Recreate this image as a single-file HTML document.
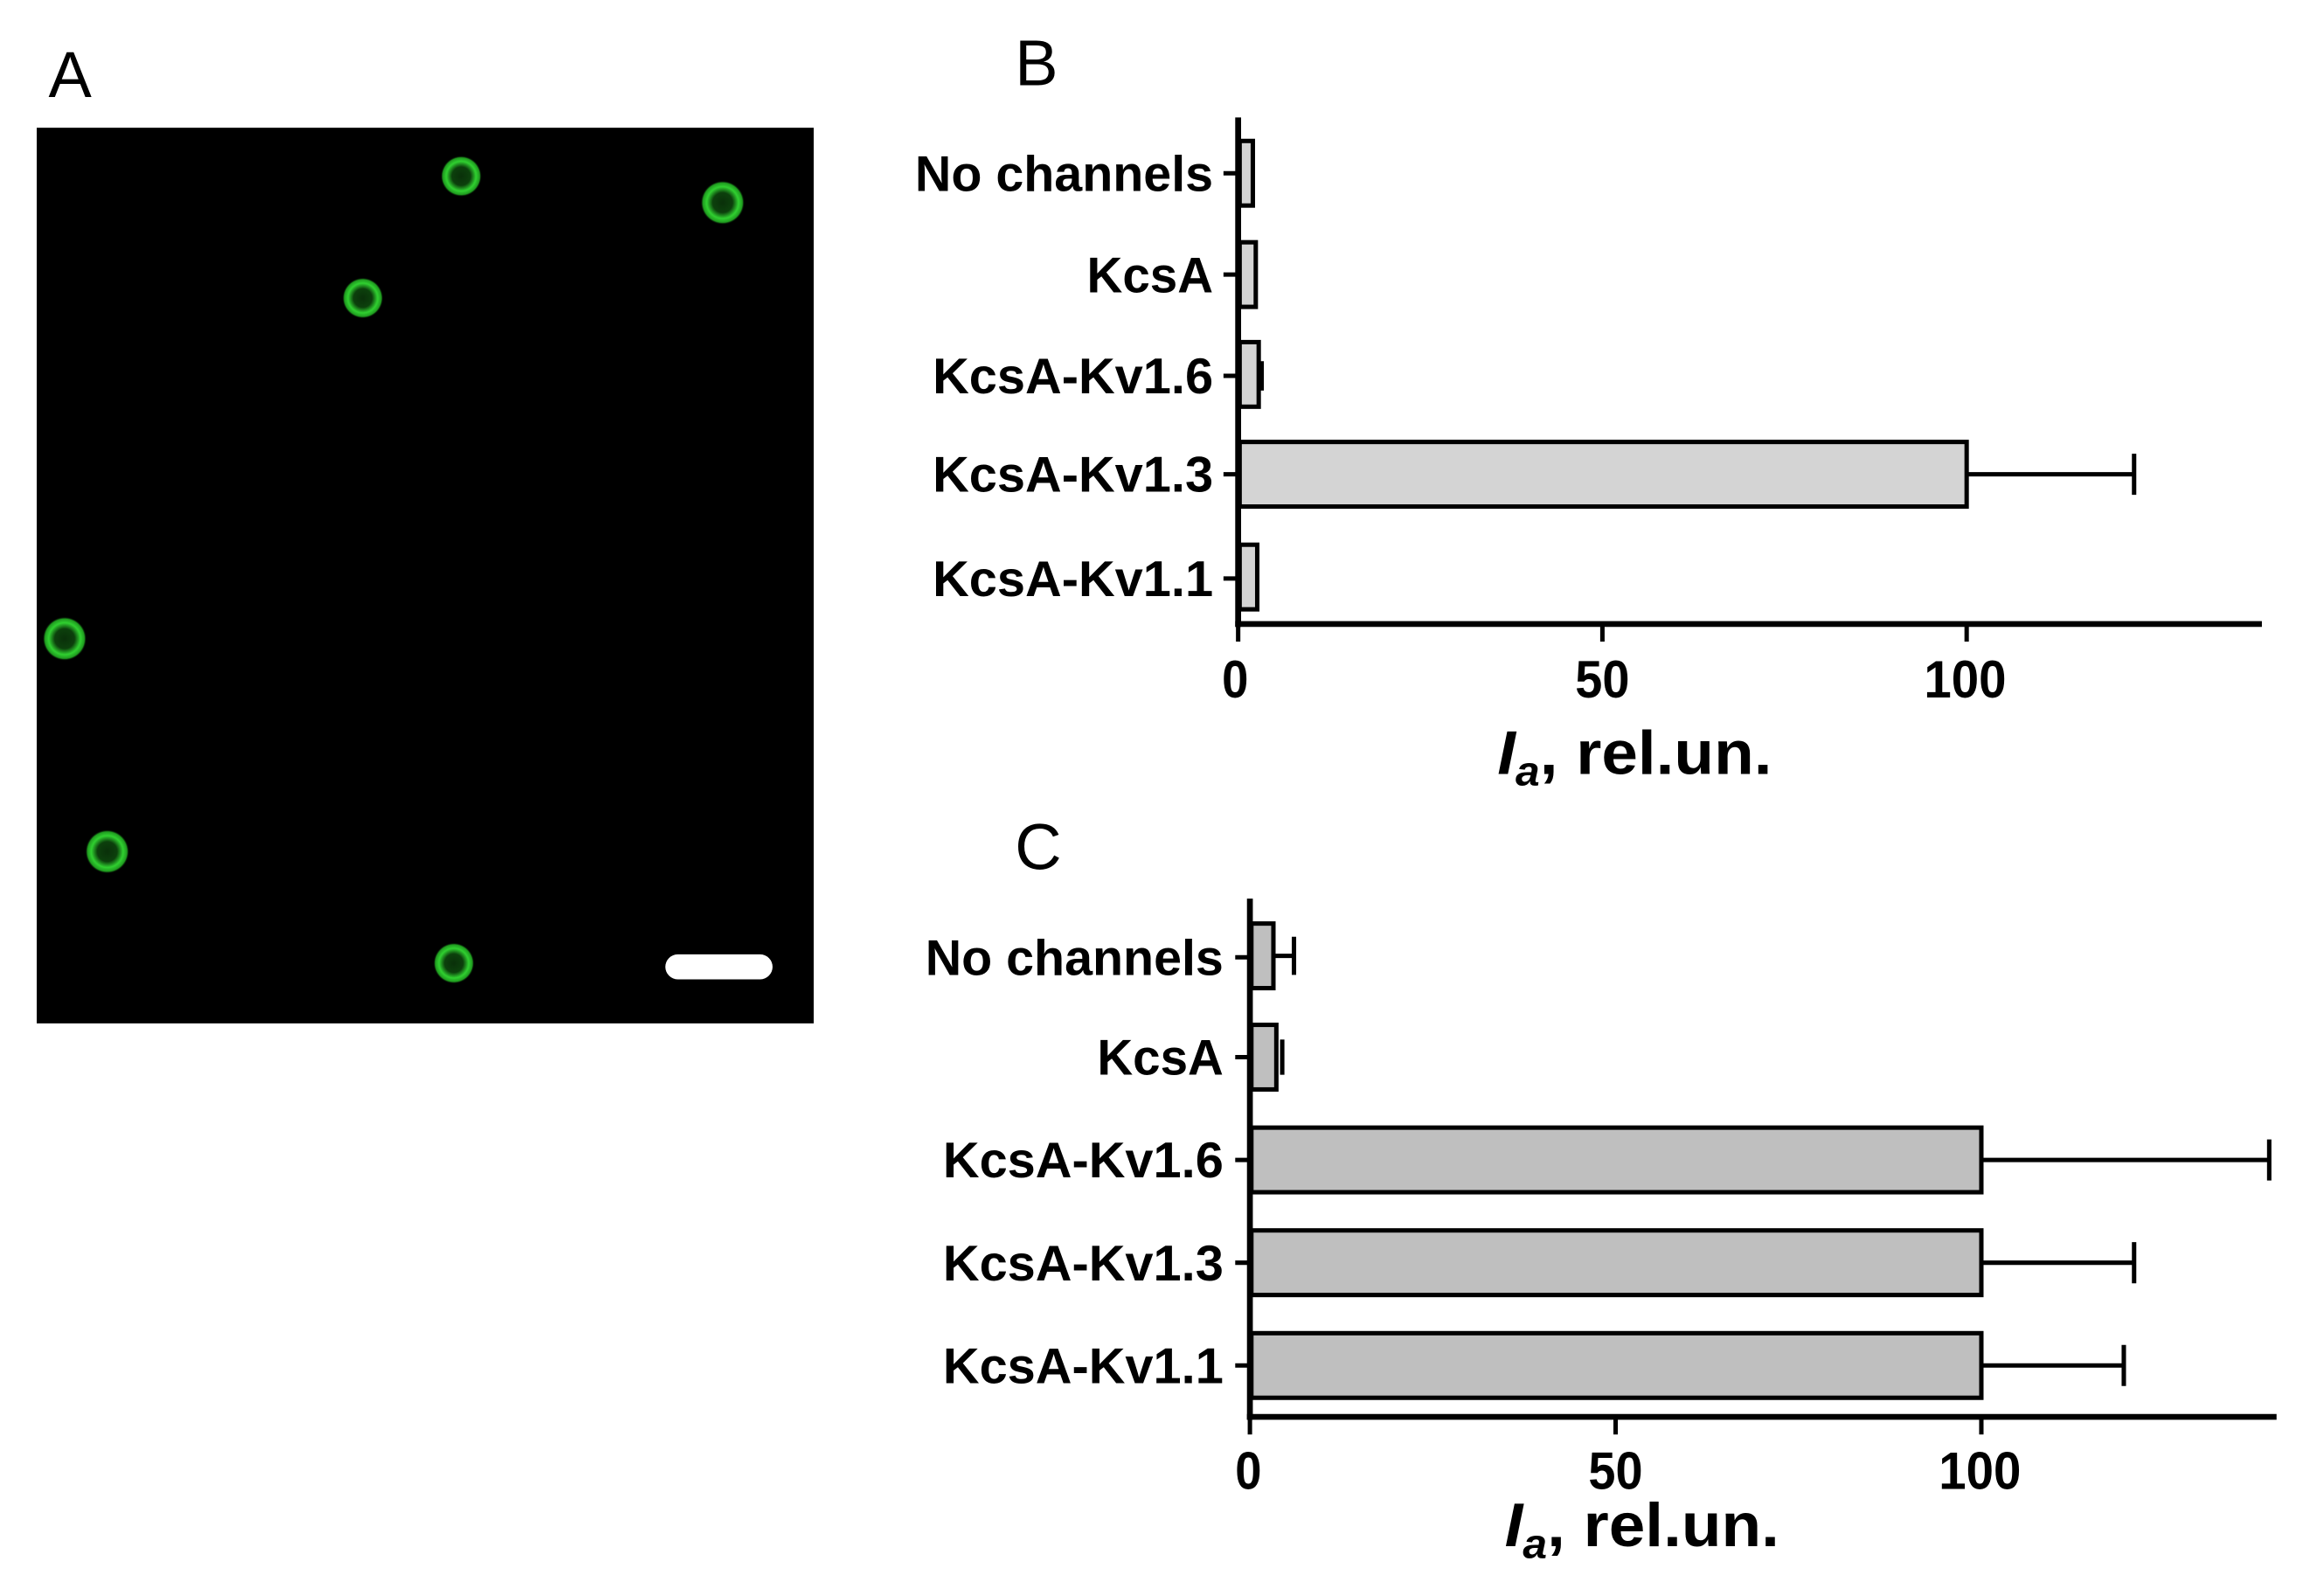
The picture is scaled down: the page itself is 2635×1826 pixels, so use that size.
<!DOCTYPE html>
<html><head><style>html,body{margin:0;padding:0;background:#fff}svg{display:block}</style></head><body>
<svg width="2635" height="1826" viewBox="0 0 1568 1087" preserveAspectRatio="none" xmlns="http://www.w3.org/2000/svg" font-family="Liberation Sans, Arial, sans-serif">
<defs>
<radialGradient id="cell"><stop offset="0" stop-color="#0a300a"/><stop offset="0.45" stop-color="#0c400c"/><stop offset="0.72" stop-color="#30d030"/><stop offset="0.9" stop-color="#1f9a1f"/><stop offset="1" stop-color="#000" stop-opacity="0"/></radialGradient>
</defs>
<!-- A -->
<text x="33" y="66" font-size="44" fill="#000">A</text>
<rect x="25" y="87" width="529" height="610" fill="#000"/>
<g fill="url(#cell)">
<circle cx="314" cy="120" r="14"/><circle cx="492" cy="138" r="15"/><circle cx="247" cy="203" r="14"/>
<circle cx="44" cy="435" r="15"/><circle cx="73" cy="580" r="15"/><circle cx="309" cy="656" r="14"/>
</g>
<rect x="453" y="650" width="73" height="17" rx="8.5" fill="#fff"/>

<!-- B -->
<text x="691" y="58" font-size="44" fill="#000">B</text>
<g stroke="#000" stroke-width="3" fill="#d4d4d4">
<rect x="844" y="96" width="9" height="44"/>
<rect x="844" y="165" width="11" height="44"/>
<rect x="844" y="233" width="13" height="44"/>
<rect x="844" y="301" width="495" height="44"/>
<rect x="844" y="371" width="12" height="44"/>
</g>
<g stroke="#000" stroke-width="4" fill="none">
<line x1="843" y1="80" x2="843" y2="427"/>
<line x1="841" y1="425" x2="1540" y2="425"/>
</g>
<g stroke="#000" stroke-width="3" fill="none">
<line x1="843" y1="425" x2="843" y2="437"/><line x1="1091" y1="425" x2="1091" y2="437"/><line x1="1339" y1="425" x2="1339" y2="437"/>
<line x1="833" y1="118" x2="843" y2="118"/><line x1="833" y1="187" x2="843" y2="187"/><line x1="833" y1="256" x2="843" y2="256"/><line x1="833" y1="323" x2="843" y2="323"/><line x1="833" y1="394" x2="843" y2="394"/>
<line x1="1339" y1="323" x2="1453" y2="323"/><line x1="1453" y1="309" x2="1453" y2="337"/>
<line x1="859" y1="246" x2="859" y2="266"/>
</g>
<g font-size="34" font-weight="bold" text-anchor="end" fill="#000">
<text x="826" y="130" textLength="203" lengthAdjust="spacingAndGlyphs">No channels</text>
<text x="826" y="199" textLength="86" lengthAdjust="spacingAndGlyphs">KcsA</text>
<text x="826" y="268" textLength="191" lengthAdjust="spacingAndGlyphs">KcsA-Kv1.6</text>
<text x="826" y="335" textLength="191" lengthAdjust="spacingAndGlyphs">KcsA-Kv1.3</text>
<text x="826" y="406" textLength="191" lengthAdjust="spacingAndGlyphs">KcsA-Kv1.1</text>
</g>
<g font-size="36" font-weight="bold" text-anchor="middle" fill="#000">
<text x="841" y="475" textLength="18" lengthAdjust="spacingAndGlyphs">0</text><text x="1091" y="475" textLength="37" lengthAdjust="spacingAndGlyphs">50</text><text x="1338" y="475" textLength="56" lengthAdjust="spacingAndGlyphs">100</text>
<text x="1113" y="527" font-size="42" textLength="187" lengthAdjust="spacingAndGlyphs"><tspan font-style="italic">I</tspan><tspan font-size="28" font-style="italic" dy="8">a</tspan><tspan dy="-8">, rel.un.</tspan></text>
</g>

<!-- C -->
<text x="691" y="592" font-size="44" fill="#000">C</text>
<g stroke="#000" stroke-width="3" fill="#bfbfbf">
<rect x="852" y="629" width="15" height="44"/>
<rect x="852" y="698" width="17" height="44"/>
<rect x="852" y="768" width="497" height="44"/>
<rect x="852" y="838" width="497" height="44"/>
<rect x="852" y="908" width="497" height="44"/>
</g>
<g stroke="#000" stroke-width="4" fill="none">
<line x1="851" y1="612" x2="851" y2="967"/>
<line x1="849" y1="965" x2="1550" y2="965"/>
</g>
<g stroke="#000" stroke-width="3" fill="none">
<line x1="851" y1="965" x2="851" y2="977"/><line x1="1100" y1="965" x2="1100" y2="977"/><line x1="1349" y1="965" x2="1349" y2="977"/>
<line x1="841" y1="652" x2="851" y2="652"/><line x1="841" y1="720" x2="851" y2="720"/><line x1="841" y1="790" x2="851" y2="790"/><line x1="841" y1="860" x2="851" y2="860"/><line x1="841" y1="930" x2="851" y2="930"/>
<line x1="867" y1="651" x2="881" y2="651"/><line x1="881" y1="638" x2="881" y2="664"/>
<line x1="873" y1="708" x2="873" y2="732"/>
<line x1="1349" y1="790" x2="1545" y2="790"/><line x1="1545" y1="776" x2="1545" y2="804"/>
<line x1="1349" y1="860" x2="1453" y2="860"/><line x1="1453" y1="846" x2="1453" y2="874"/>
<line x1="1349" y1="930" x2="1446" y2="930"/><line x1="1446" y1="916" x2="1446" y2="944"/>
</g>
<g font-size="34" font-weight="bold" text-anchor="end" fill="#000">
<text x="833" y="664" textLength="203" lengthAdjust="spacingAndGlyphs">No channels</text>
<text x="833" y="732" textLength="86" lengthAdjust="spacingAndGlyphs">KcsA</text>
<text x="833" y="802" textLength="191" lengthAdjust="spacingAndGlyphs">KcsA-Kv1.6</text>
<text x="833" y="872" textLength="191" lengthAdjust="spacingAndGlyphs">KcsA-Kv1.3</text>
<text x="833" y="942" textLength="191" lengthAdjust="spacingAndGlyphs">KcsA-Kv1.1</text>
</g>
<g font-size="36" font-weight="bold" text-anchor="middle" fill="#000">
<text x="850" y="1014" textLength="18" lengthAdjust="spacingAndGlyphs">0</text><text x="1100" y="1014" textLength="37" lengthAdjust="spacingAndGlyphs">50</text><text x="1348" y="1014" textLength="56" lengthAdjust="spacingAndGlyphs">100</text>
<text x="1118" y="1053" font-size="42" textLength="187" lengthAdjust="spacingAndGlyphs"><tspan font-style="italic">I</tspan><tspan font-size="28" font-style="italic" dy="8">a</tspan><tspan dy="-8">, rel.un.</tspan></text>
</g>
</svg>
</body></html>
